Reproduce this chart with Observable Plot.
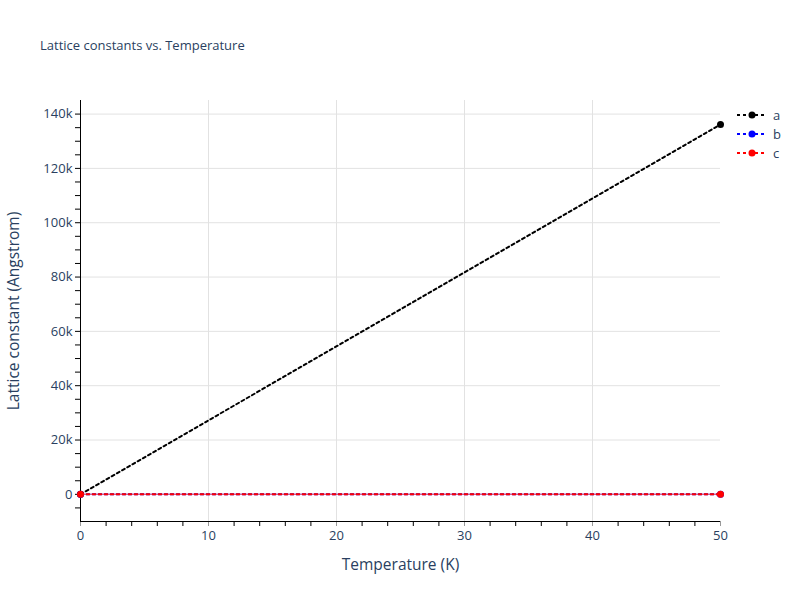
<!DOCTYPE html>
<html>
<head>
<meta charset="utf-8">
<script src="https://cdn.jsdelivr.net/npm/d3@7"></script>
<script src="https://cdn.jsdelivr.net/npm/@observablehq/plot@0.6"></script>
<style>
  body { margin: 0; background: #fff; font-family: "Open Sans", Verdana, Arial, sans-serif; }
  #wrap { position: relative; width: 800px; height: 600px; }
  #title { position: absolute; left: 40px; top: 36px; font-size: 13px; color: #2a3f5f; }
  #legend { position: absolute; left: 736px; top: 105px; font-size: 13px; color: #2a3f5f; }
  .li { display: flex; align-items: center; height: 19px; }
  .li span { margin-left: 5px; }
</style>
</head>
<body>
<div id="wrap">
  <div id="chart"></div>
  <div id="title">Lattice constants vs. Temperature</div>
  <div id="legend"></div>
</div>
<script>
const temperature = [0, 50];
const seriesA = [4, 136200];
const seriesB = [4, 4];
const seriesC = [4, 4];
const seriesNames = ["a", "b", "c"];
const seriesColors = ["#000000", "#0000ff", "#ff0000"];
const yMajorTicks = [0, 20000, 40000, 60000, 80000, 100000, 120000, 140000];
const yMinorTicks = [-5000, 5000, 10000, 15000, 25000, 30000, 35000, 45000, 50000, 55000, 65000, 70000, 75000, 85000, 90000, 95000, 105000, 110000, 115000, 125000, 130000, 135000];
const xMajorTicks = [0, 10, 20, 30, 40, 50];
const xMinorTicks = [2, 4, 6, 8, 12, 14, 16, 18, 22, 24, 26, 28, 32, 34, 36, 38, 42, 44, 46, 48];
const xGrid = [10, 20, 30, 40];
const yGrid = [20000, 40000, 60000, 80000, 100000, 120000, 140000];

const allSeries = [seriesA, seriesB, seriesC];
const data = [];
seriesNames.forEach((name, i) => {
  temperature.forEach((t, j) => data.push({series: name, T: t, v: allSeries[i][j], color: seriesColors[i]}));
});

const fmt = d => d === 0 ? "0" : (d / 1000) + "k";
const ink = "#2a3f5f";

const marks = [
  Plot.gridX(xGrid, {stroke: "#e2e2e2", strokeOpacity: 1, strokeWidth: 1}),
  Plot.gridY(yGrid, {stroke: "#e2e2e2", strokeOpacity: 1, strokeWidth: 1}),
  Plot.axisY(yMajorTicks, {tickFormat: fmt, tickSize: 5, tickPadding: 3, label: null, fontSize: 13, color: ink, stroke: "#000"}),
  Plot.axisY(yMinorTicks, {tickFormat: () => "", tickSize: 5, label: null, stroke: "#000"}),
  Plot.axisX(xMajorTicks, {tickFormat: d => String(d), tickSize: 5, tickPadding: 4, label: null, fontSize: 13, color: ink, stroke: "#999"}),
  Plot.axisX(xMinorTicks, {tickFormat: () => "", tickSize: 5, label: null, stroke: "#000"}),
  Plot.ruleX([0], {stroke: "#000", strokeWidth: 1}),
  Plot.ruleY([-10000], {stroke: "#000", strokeWidth: 1}),
  Plot.text(["Temperature (K)"], {frameAnchor: "bottom", dy: 48, fontSize: 15.5, fill: ink}),
  Plot.text(["Lattice constant (Angstrom)"], {frameAnchor: "left", textAnchor: "middle", lineAnchor: "middle", dx: -66, rotate: -90, fontSize: 15.5, fill: ink})
];
seriesNames.forEach((name, i) => {
  const d = data.filter(r => r.series === name);
  marks.push(Plot.line(d, {x: "T", y: "v", stroke: seriesColors[i], strokeWidth: 2, strokeDasharray: "3,3"}));
  marks.push(Plot.dot(d, {x: "T", y: "v", fill: seriesColors[i], r: 3.5, stroke: "none"}));
});

const chart = Plot.plot({
  width: 800,
  height: 600,
  marginLeft: 80,
  marginRight: 80,
  marginTop: 100,
  marginBottom: 79,
  style: {fontFamily: "'Open Sans', Verdana, Arial, sans-serif", fontSize: "13px", color: ink, background: "white", overflow: "visible"},
  x: {domain: [0, 50]},
  y: {domain: [-10000, 145000]},
  marks
});
document.getElementById("chart").appendChild(chart);

const legend = document.getElementById("legend");
seriesNames.forEach((name, i) => {
  const row = document.createElement("div");
  row.className = "li";
  row.innerHTML = `<svg width="32" height="10"><line x1="1" y1="5" x2="31" y2="5" stroke="${seriesColors[i]}" stroke-width="2" stroke-dasharray="3,3"/><circle cx="16" cy="5" r="3.5" fill="${seriesColors[i]}"/></svg><span>${name}</span>`;
  legend.appendChild(row);
});
</script>
</body>
</html>
